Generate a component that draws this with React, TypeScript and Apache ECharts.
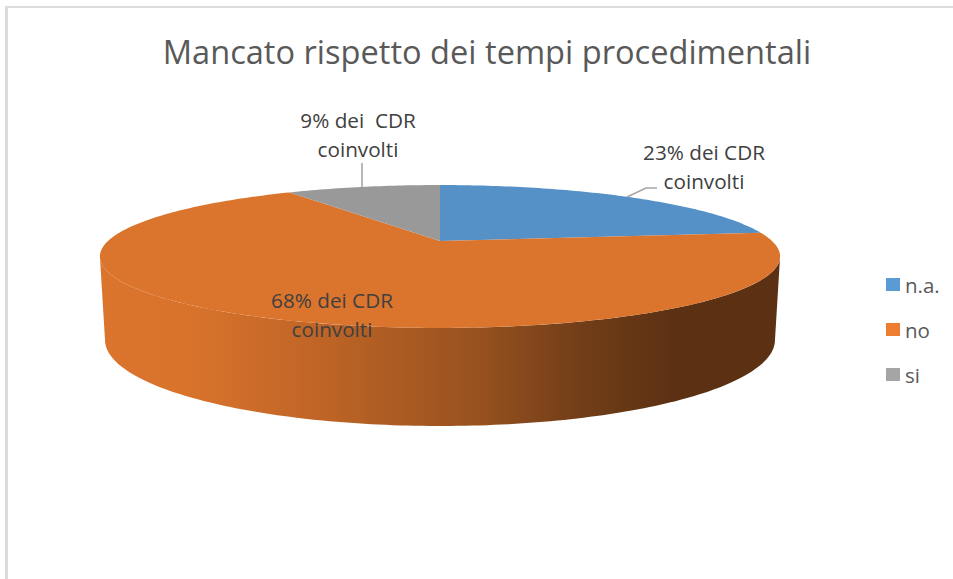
import React, { useEffect, useRef } from "react";
import * as echarts from "echarts";

const categories = ["n.a.", "no", "si"];
const shares = [23, 68, 9];
const labelLines = [
  ["23% dei CDR", "coinvolti"],
  ["68% dei CDR", "coinvolti"],
  ["9% dei  CDR", "coinvolti"],
];
const titleText = "Mancato rispetto dei tempi procedimentali";

const faceColors = ["#5590C6", "#DB742C", "#999999"];
const legendColors = ["#5B9BD5", "#ED7D31", "#A5A5A5"];
const FONT = "'Open Sans', sans-serif";

// layout of the tilted disc (a perspective view of a circle)
const CX = 440;
const K = -0.2168;
const TOP = { a: 332, b: 68.1, y0: 241 };
const BOTTOM = { a: 327, b: 82, y0: 321.3 };
const labelPos = [
  { x: 704, y: 152 },
  { x: 332, y: 300 },
  { x: 358, y: 120 },
];
const leaders: number[][][] = [
  [[627, 197], [646, 188], [657, 188]],
  [],
  [[362, 163], [362, 187]],
];

const project = (deg: number, p: { a: number; b: number; y0: number }) => {
  const t = (deg * Math.PI) / 180;
  const x = Math.sin(t);
  const y = -Math.cos(t);
  const d = 1 + K * y;
  return [CX + (p.a * x) / d, p.y0 + (p.b * y) / d];
};

const sweep = (from: number, to: number, p: { a: number; b: number; y0: number }) => {
  const pts: number[][] = [];
  const n = Math.max(2, Math.ceil(Math.abs(to - from)));
  for (let i = 0; i <= n; i++) pts.push(project(from + ((to - from) * i) / n, p));
  return pts;
};

const VIS_START = 102.5;
const VIS_END = 257.5;
const total = shares.reduce((s, v) => s + v, 0);

const wallFill = {
  type: "linear",
  x: 100,
  y: 0,
  x2: 781,
  y2: 0,
  global: true,
  colorStops: [
    { offset: 0, color: "#DB742C" },
    { offset: 0.13, color: "#D9732C" },
    { offset: 0.33, color: "#BE6426" },
    { offset: 0.56, color: "#96511F" },
    { offset: 0.7, color: "#733E18" },
    { offset: 0.84, color: "#5C3113" },
    { offset: 1, color: "#5C3113" },
  ],
};

function makeRender(index: number) {
  return (_params: any, api: any) => {
    const value = api.value(0);
    const before = shares.slice(0, index).reduce((s, v) => s + v, 0);
    const a0 = (before / total) * 360;
    const a1 = a0 + (value / total) * 360;
    const children: any[] = [];
    const w0 = Math.max(a0, VIS_START);
    const w1 = Math.min(a1, VIS_END);
    if (w1 > w0) {
      children.push({
        type: "polygon",
        shape: { points: [...sweep(w0, w1, TOP), ...sweep(w1, w0, BOTTOM)] },
        style: { fill: wallFill },
      });
    }
    children.push({
      type: "polygon",
      shape: { points: [[CX, TOP.y0], ...sweep(a0, a1, TOP)] },
      style: { fill: faceColors[index] },
    });
    if (leaders[index].length) {
      children.push({
        type: "polyline",
        shape: { points: leaders[index] },
        style: { fill: "none", stroke: "#A6A6A6", lineWidth: 1.6 },
      });
    }
    labelLines[index].forEach((line, i) => {
      children.push({
        type: "text",
        x: labelPos[index].x,
        y: labelPos[index].y + i * 29,
        style: {
          text: line,
          fill: "#404040",
          font: `20.7px ${FONT}`,
          align: "center",
          verticalAlign: "middle",
        },
      });
    });
    return { type: "group", children };
  };
}

export default function App() {
  const ref = useRef<HTMLDivElement>(null);
  useEffect(() => {
    document.body.style.margin = "0";
    document.body.style.background = "#fff";
    const chart = echarts.init(ref.current!, undefined, { renderer: "svg" });
    chart.setOption({
      animation: false,
      backgroundColor: "#ffffff",
      title: {
        text: titleText,
        left: 482,
        top: 30,
        textAlign: "center",
        textStyle: { fontFamily: FONT, fontWeight: 400, fontSize: 32.6, color: "#595959" },
      },
      legend: {
        orient: "vertical",
        left: 881,
        top: 269,
        itemWidth: 14,
        itemHeight: 13,
        itemGap: 24,
        icon: "rect",
        textStyle: { fontFamily: FONT, fontSize: 20.5, color: "#595959" },
        data: categories,
      },
      graphic: [
        { type: "rect", shape: { x: 5, y: 6, width: 948, height: 2 }, style: { fill: "#DCDCDC" } },
        { type: "rect", shape: { x: 5, y: 6, width: 3, height: 573 }, style: { fill: "#DCDCDC" } },
      ],
      series: categories.map((name, i) => ({
        type: "custom",
        name,
        coordinateSystem: "none",
        renderItem: makeRender(i),
        itemStyle: { color: legendColors[i] },
        silent: true,
        data: [{ name, value: [shares[i]] }],
      })),
    });
    return () => chart.dispose();
  }, []);
  return <div ref={ref} style={{ width: 953, height: 579 }} />;
}
